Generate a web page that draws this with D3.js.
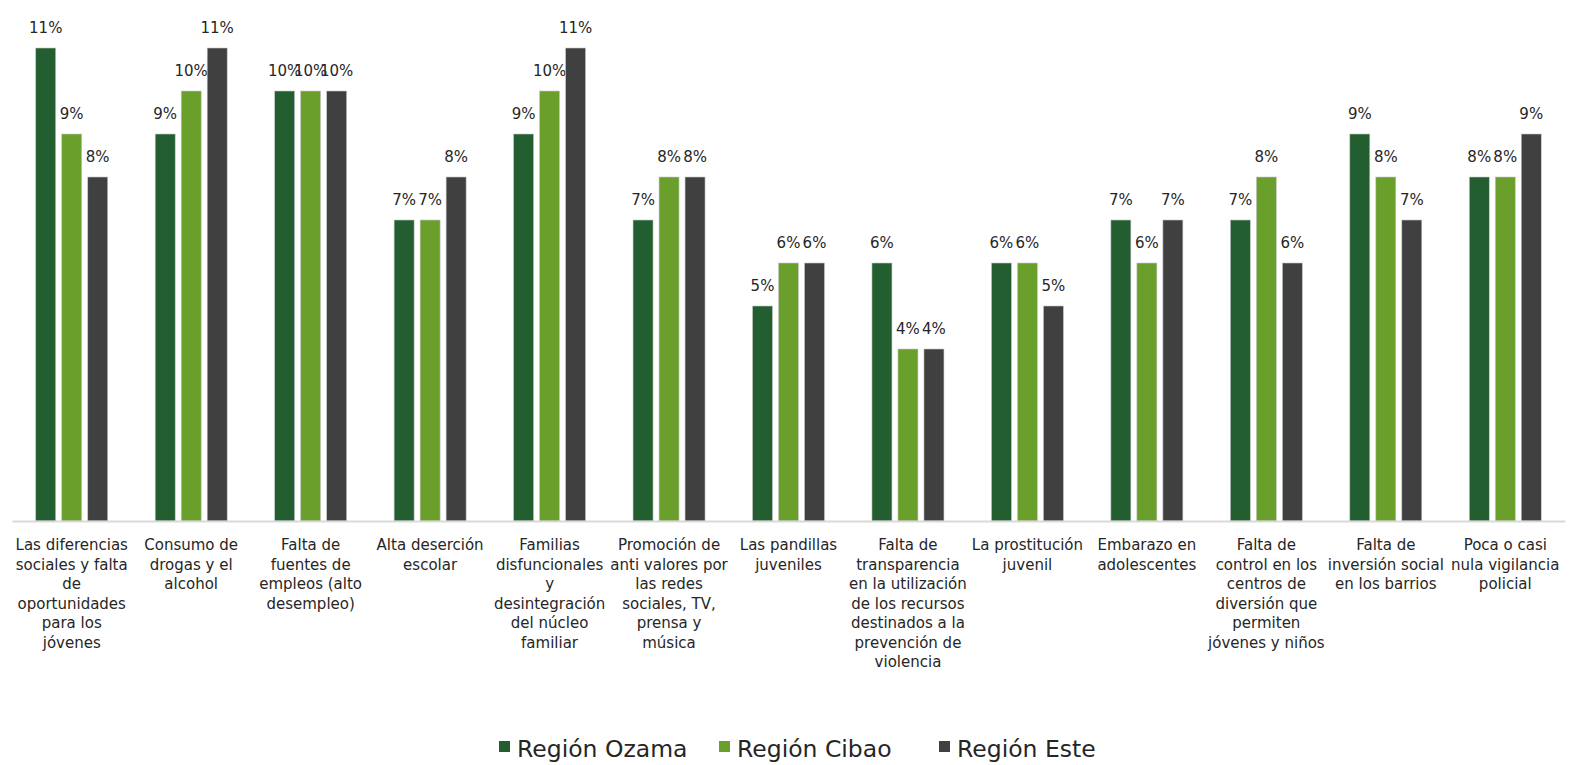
<!DOCTYPE html>
<html><head><meta charset="utf-8">
<script src="https://cdn.jsdelivr.net/npm/d3@7"></script>
<style>body{margin:0;background:#fff}svg{display:block}text{font-family:"DejaVu Sans",sans-serif;fill:#262626}</style>
</head><body><svg id="c" width="1576" height="765"></svg>
<script>
const categories = [
  "Las diferencias\nsociales y falta\nde\noportunidades\npara los\njóvenes",
  "Consumo de\ndrogas y el\nalcohol",
  "Falta de\nfuentes de\nempleos (alto\ndesempleo)",
  "Alta deserción\nescolar",
  "Familias\ndisfuncionales\ny\ndesintegración\ndel núcleo\nfamiliar",
  "Promoción de\nanti valores por\nlas redes\nsociales, TV,\nprensa y\nmúsica",
  "Las pandillas\njuveniles",
  "Falta de\ntransparencia\nen la utilización\nde los recursos\ndestinados a la\nprevención de\nviolencia",
  "La prostitución\njuvenil",
  "Embarazo en\nadolescentes",
  "Falta de\ncontrol en los\ncentros de\ndiversión que\npermiten\njóvenes y niños",
  "Falta de\ninversión social\nen los barrios",
  "Poca o casi\nnula vigilancia\npolicial"
];
const seriesNames = ["Región Ozama", "Región Cibao", "Región Este"];
const ozama = [11, 9, 10, 7, 9, 7, 5, 6, 6, 7, 7, 9, 8];
const cibao = [9, 10, 10, 7, 10, 8, 6, 4, 6, 6, 8, 8, 8];
const este  = [8, 11, 10, 8, 11, 8, 6, 4, 5, 7, 6, 7, 9];
const colors = ["#235E31", "#6A9F2B", "#404040"];

const series = [ozama, cibao, este];
const svg = d3.select("#c");
const x0 = d3.scaleBand().domain(d3.range(categories.length)).range([12, 1565]).paddingInner(0).paddingOuter(0);
const y = d3.scaleLinear().domain([0, 12]).range([521, 5]);
const barW = 20, step = 26;

const g = svg.append("g");
series.forEach((vals, si) => {
  g.selectAll(".b" + si).data(vals).join("rect")
    .attr("x", (d, i) => x0(i) + x0.bandwidth() / 2 + (si - 1) * step - barW / 2)
    .attr("y", d => y(d))
    .attr("width", barW)
    .attr("height", d => y(0) - y(d))
    .attr("fill", colors[si])
    .attr("stroke", "#c8c8c8").attr("stroke-width", 0.6);
  g.selectAll(".l" + si).data(vals).join("text")
    .attr("x", (d, i) => x0(i) + x0.bandwidth() / 2 + (si - 1) * step)
    .attr("y", d => y(d) - 15)
    .attr("text-anchor", "middle")
    .attr("font-size", 15)
    .text(d => d + "%");
});

// axis
const axis = svg.append("g").attr("transform", "translate(0,521)")
  .call(d3.axisBottom(x0).tickSize(0).tickFormat(""));
axis.select(".domain").attr("stroke", "#d9d9d9").attr("stroke-width", 2);

// category labels
categories.forEach((c, i) => {
  const t = svg.append("text").attr("text-anchor", "middle").attr("font-size", 15);
  c.split("\n").forEach((ln, j) => {
    t.append("tspan").attr("x", x0(i) + x0.bandwidth() / 2).attr("y", 550 + j * 19.5).text(ln);
  });
});

// legend
const legX = [499, 719, 939];
seriesNames.forEach((n, i) => {
  svg.append("rect").attr("x", legX[i]).attr("y", 741).attr("width", 11).attr("height", 11).attr("fill", colors[i]);
  svg.append("text").attr("x", legX[i] + 18).attr("y", 757).attr("font-size", 23.5).text(n);
});
</script></body></html>
